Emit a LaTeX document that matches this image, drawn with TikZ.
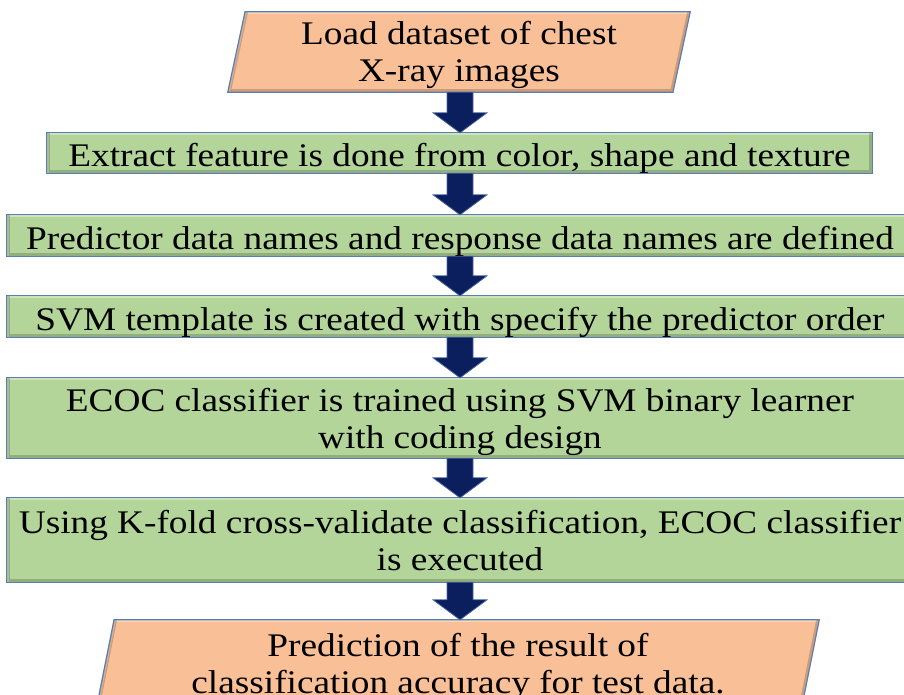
\documentclass[tikz,border=0pt]{standalone}
\usepackage{fontspec}
\setmainfont{Liberation Serif}[FakeStretch=1.13]
\usetikzlibrary{shapes.geometric,calc}
\definecolor{boxgreen}{HTML}{B3D59A}
\definecolor{boxorange}{HTML}{F9BF96}
\definecolor{boxedge}{HTML}{5A7EB0}
\definecolor{navy}{HTML}{0B1F5E}
\definecolor{navyedge}{HTML}{4A66A0}
\tikzset{
  base/.style={font=\fontsize{33}{37}\selectfont, align=center, inner sep=0pt, text=black},
  oneline/.style={text height=27.5pt, text depth=0pt},
  twoline/.style={text height=60pt, text depth=0pt},
  greenbox/.style={base, rectangle, fill=boxgreen},
  iobox/.style={base, trapezium, trapezium left angle=74, trapezium right angle=106,
    trapezium stretches body, fill=boxorange},
  edgeline/.style={draw=boxedge, line width=1.2pt},
  darkbevel/.style={line width=6pt, black, opacity=.18},
  lightbevel/.style={line width=4pt, white, opacity=.35},
  arrowfill/.style={fill=navy, draw=navyedge, line width=0.8pt},
}
\newcommand\bevelrect[1]{%
  \begin{scope}
    \clip (#1.south west) rectangle (#1.north east);
    \draw[lightbevel] (#1.south west) -- (#1.north west) -- (#1.north east);
    \draw[darkbevel] (#1.north west) -- (#1.south west) -- (#1.south east) -- (#1.north east);
  \end{scope}
  \draw[edgeline] (#1.south west) rectangle (#1.north east);}
\newcommand\bevelpara[1]{%
  \begin{scope}
    \clip (#1.bottom left corner) -- (#1.bottom right corner) -- (#1.top right corner) -- (#1.top left corner) -- cycle;
    \draw[lightbevel] (#1.bottom left corner) -- (#1.top left corner) -- (#1.top right corner);
    \draw[darkbevel] (#1.top left corner) -- (#1.bottom left corner) -- (#1.bottom right corner) -- (#1.top right corner);
  \end{scope}
  \draw[edgeline] (#1.bottom left corner) -- (#1.bottom right corner) -- (#1.top right corner) -- (#1.top left corner) -- cycle;}
\newcommand\flowarrow[2]{%
  \path[arrowfill] let \p1=(#1.south), \p2=(#2.north) in
    (447pt,\y1) -- (473pt,\y1) -- (473pt,\y2+20pt) -- (487pt,\y2+20pt) --
    (460pt,\y2) -- (433pt,\y2+20pt) -- (447pt,\y2+20pt) -- cycle;}
\begin{document}
\begin{tikzpicture}[x=1pt,y=-1pt]
\useasboundingbox[fill=white] (0,0) rectangle (904,695);
\node[iobox, twoline, minimum width=462, minimum height=80] (load) at (459,52) {Load dataset of chest\\X-ray images};
\bevelpara{load}
\node[greenbox, oneline, minimum width=825, minimum height=40] (extract) at (459.5,153) {Extract feature is done from color, shape and texture};
\bevelrect{extract}
\node[greenbox, oneline, minimum width=906, minimum height=41] (predictor) at (460,235.5) {Predictor data names and response data names are defined};
\bevelrect{predictor}
\node[greenbox, oneline, minimum width=906, minimum height=41] (svm) at (460,316.5) {SVM template is created with specify the predictor order};
\bevelrect{svm}
\node[greenbox, twoline, minimum width=906, minimum height=80] (ecoc) at (460,418) {ECOC classifier is trained using SVM binary learner\\with coding design};
\bevelrect{ecoc}
\node[greenbox, twoline, minimum width=906, minimum height=84] (kfold) at (460,540) {Using K-fold cross-validate classification, ECOC classifier\\is executed};
\bevelrect{kfold}
\node[iobox, twoline, minimum width=722, minimum height=86] (predict) at (458,663) {Prediction of the result of\\classification accuracy for test data.};
\bevelpara{predict}
\flowarrow{load}{extract}
\flowarrow{extract}{predictor}
\flowarrow{predictor}{svm}
\flowarrow{svm}{ecoc}
\flowarrow{ecoc}{kfold}
\flowarrow{kfold}{predict}
\end{tikzpicture}
\end{document}
